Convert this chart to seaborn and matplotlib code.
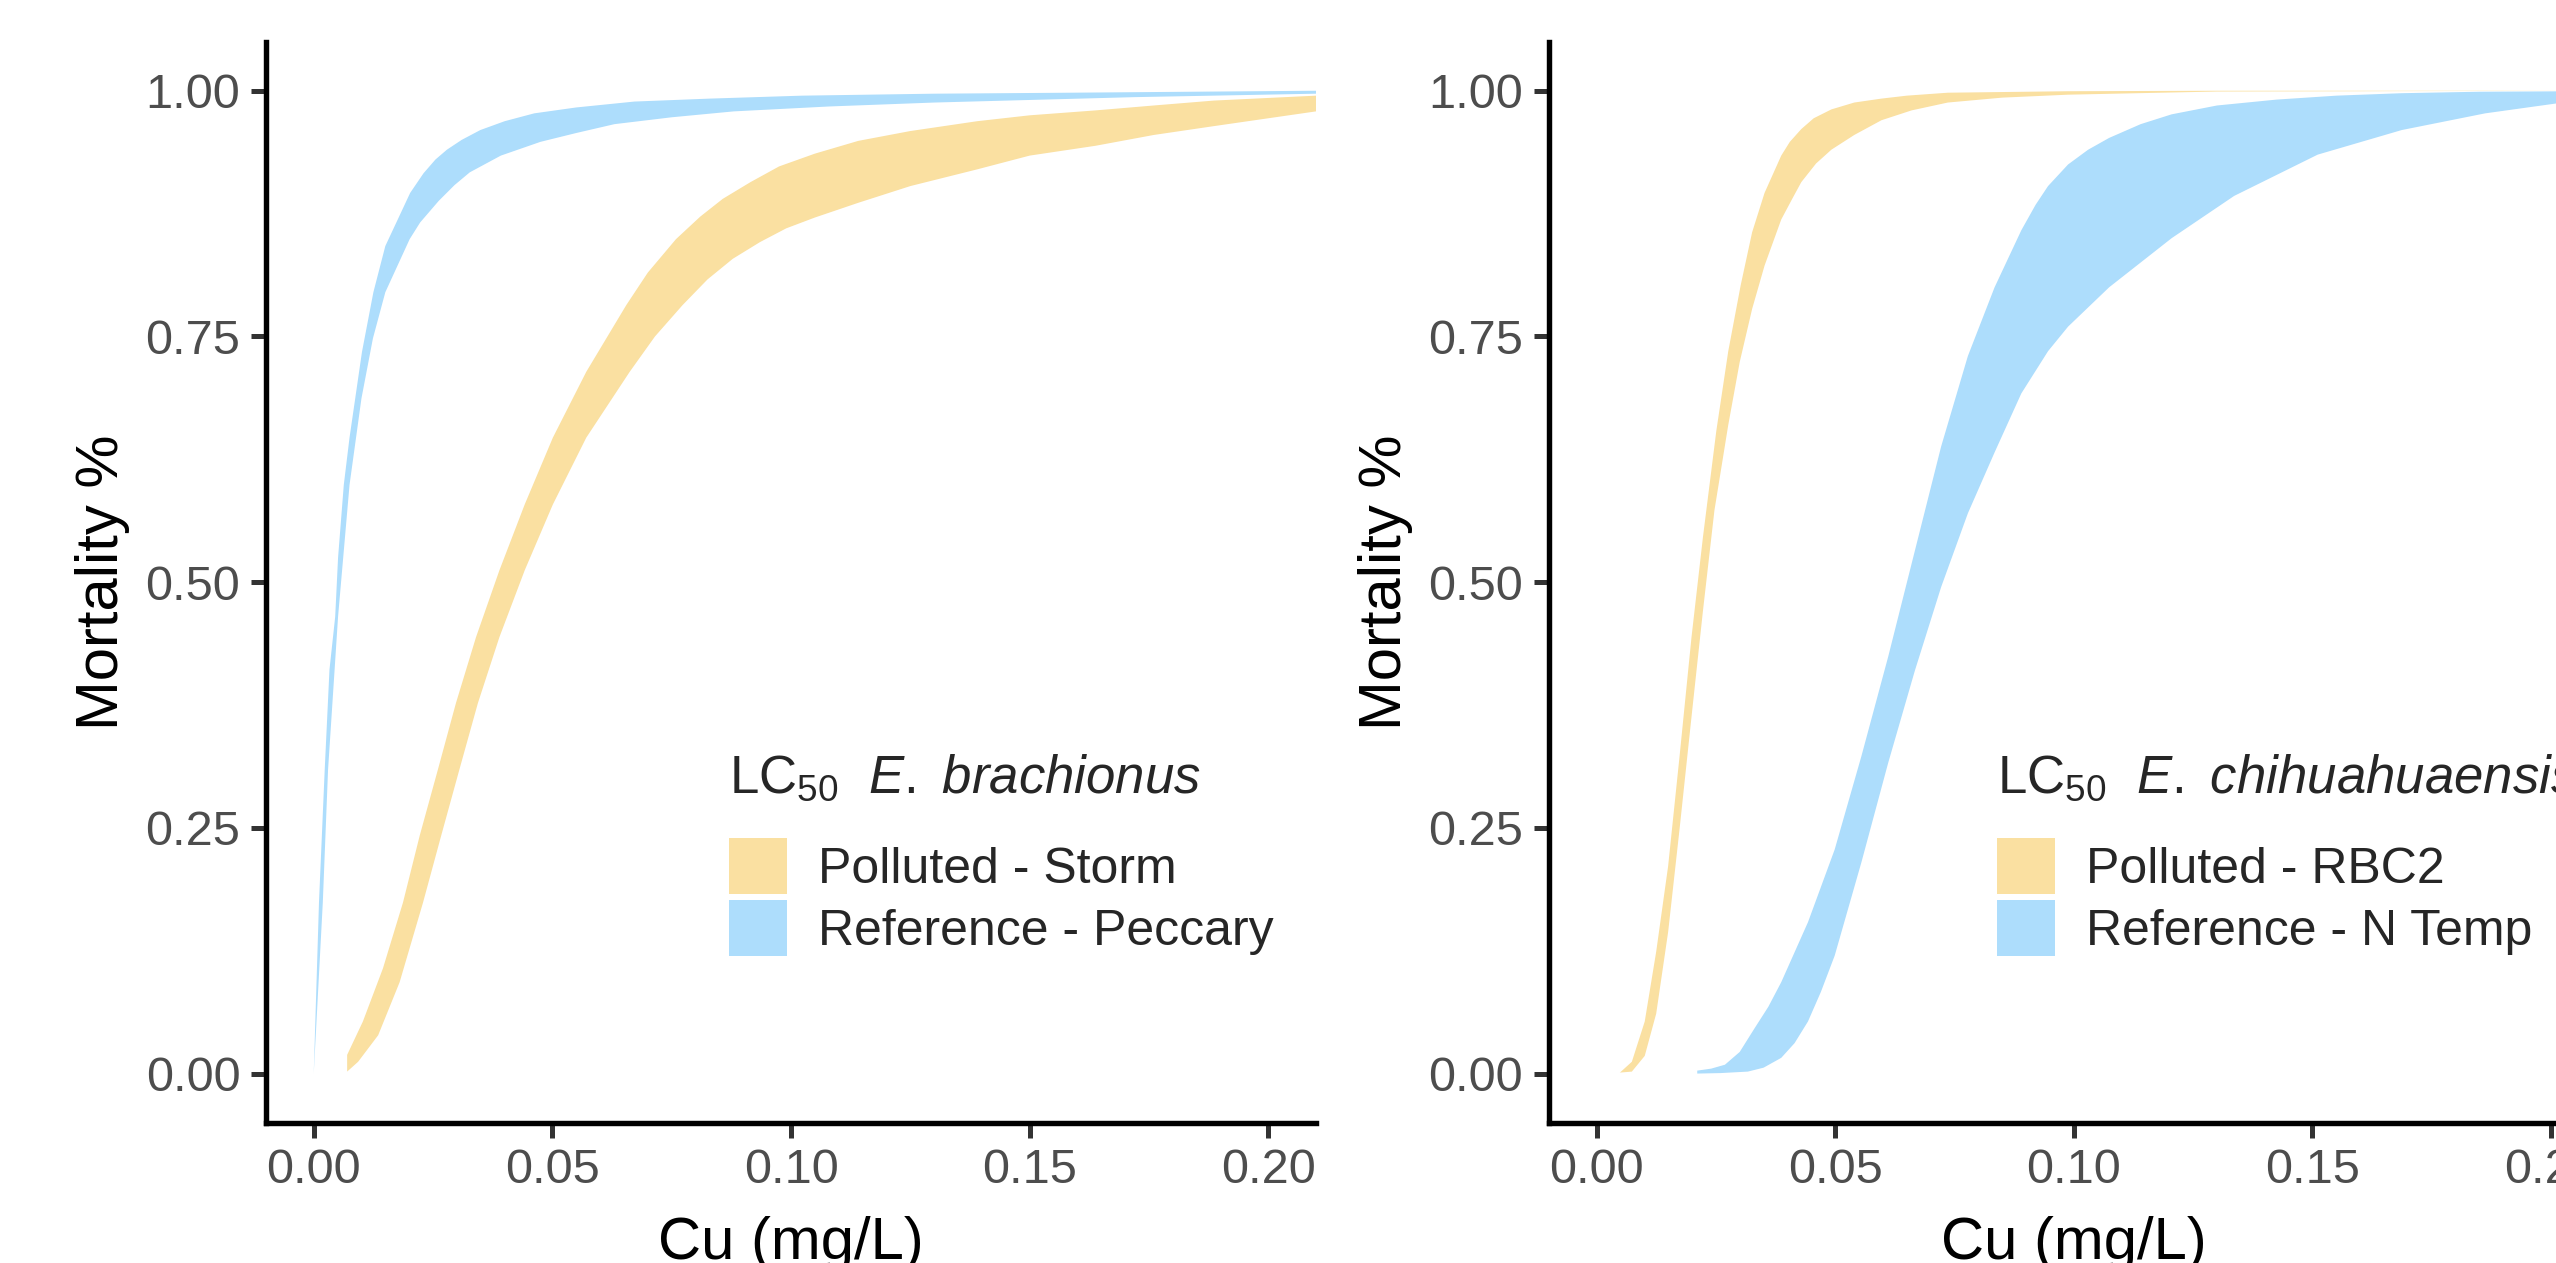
import numpy as np
import matplotlib
matplotlib.use("Agg")
import matplotlib.pyplot as plt
from matplotlib.patches import Patch
import seaborn as sns

# ribbon edges: Cu (mg/L) -> mortality fraction
# left panel, E. brachionus
storm_up_x = [0.0070, 0.0103, 0.0145, 0.0187, 0.0222, 0.0260, 0.0298, 0.0340, 0.0389, 0.0442, 0.0501,
              0.0571, 0.0655, 0.0700, 0.0759, 0.0810, 0.0857, 0.0915, 0.0975, 0.1050, 0.1141, 0.1250,
              0.1390, 0.1500, 0.1638, 0.1760, 0.1886, 0.2100]
storm_up_y = [0.019, 0.053, 0.107, 0.174, 0.242, 0.309, 0.377, 0.444, 0.512, 0.579, 0.647,
              0.714, 0.782, 0.815, 0.849, 0.872, 0.890, 0.907, 0.923, 0.936, 0.949, 0.959,
              0.969, 0.975, 0.980, 0.985, 0.990, 0.995]
storm_lo_x = [0.0070, 0.0093, 0.0135, 0.0180, 0.0229, 0.0267, 0.0305, 0.0344, 0.0389, 0.0442, 0.0501,
              0.0571, 0.0662, 0.0715, 0.0773, 0.0825, 0.0878, 0.0935, 0.0990, 0.1050, 0.1141, 0.1250,
              0.1390, 0.1500, 0.1638, 0.1760, 0.1886, 0.2100]
storm_lo_y = [0.002, 0.012, 0.039, 0.093, 0.174, 0.242, 0.309, 0.377, 0.444, 0.512, 0.579,
              0.647, 0.714, 0.750, 0.782, 0.808, 0.829, 0.846, 0.860, 0.871, 0.886, 0.903,
              0.920, 0.934, 0.944, 0.955, 0.964, 0.979]

peccary_up_x = [0.0, 0.0011, 0.0023, 0.0033, 0.0045, 0.0051, 0.0063, 0.0075, 0.0101, 0.0125, 0.0150,
                0.0177, 0.0202, 0.0230, 0.0255, 0.0279, 0.0310, 0.0349, 0.0400, 0.0462, 0.0550,
                0.0672, 0.0830, 0.1023, 0.1300, 0.1584, 0.2100]
peccary_up_y = [0.0, 0.174, 0.309, 0.411, 0.465, 0.525, 0.599, 0.647, 0.734, 0.795, 0.842,
                0.870, 0.896, 0.916, 0.930, 0.940, 0.950, 0.960, 0.969, 0.977, 0.983,
                0.989, 0.992, 0.995, 0.997, 0.998, 1.0]
peccary_lo_x = [0.0, 0.0019, 0.0030, 0.0051, 0.0075, 0.0100, 0.0124, 0.0150, 0.0201, 0.0223,
                0.0262, 0.0295, 0.0327, 0.0392, 0.0475, 0.0550, 0.0630, 0.0750, 0.0880, 0.1080,
                0.1300, 0.1720, 0.2100]
peccary_lo_y = [0.0, 0.174, 0.309, 0.465, 0.599, 0.687, 0.748, 0.795, 0.849, 0.866,
                0.888, 0.904, 0.917, 0.934, 0.948, 0.957, 0.966, 0.973, 0.979, 0.984,
                0.988, 0.9935, 0.997]

# right panel, E. chihuahuaensis
rbc2_up_x = [0.0049, 0.0074, 0.0101, 0.0125, 0.0150, 0.0174, 0.0199, 0.0223, 0.0251, 0.0276, 0.0302,
             0.0326, 0.0352, 0.0387, 0.0405, 0.0429, 0.0455, 0.0492, 0.0540, 0.0597, 0.0650,
             0.0736, 0.0988, 0.1300, 0.2100]
rbc2_up_y = [0.001, 0.012, 0.053, 0.124, 0.211, 0.323, 0.444, 0.546, 0.654, 0.735, 0.802,
             0.856, 0.896, 0.934, 0.948, 0.961, 0.972, 0.981, 0.988, 0.992, 0.995,
             0.998, 0.9995, 1.0, 1.0]
rbc2_lo_x = [0.0049, 0.0074, 0.0101, 0.0125, 0.0150, 0.0174, 0.0199, 0.0223, 0.0247, 0.0276, 0.0300,
             0.0326, 0.0352, 0.0387, 0.0410, 0.0429, 0.0460, 0.0492, 0.0540, 0.0597, 0.0660,
             0.0736, 0.0850, 0.0988, 0.1300, 0.2100]
rbc2_lo_y = [0.001, 0.002, 0.018, 0.061, 0.144, 0.249, 0.363, 0.471, 0.573, 0.660, 0.724,
             0.778, 0.822, 0.869, 0.890, 0.907, 0.926, 0.940, 0.955, 0.970, 0.980,
             0.988, 0.993, 0.996, 0.9992, 1.0]

ntemp_up_x = [0.0211, 0.0240, 0.0269, 0.0300, 0.0331, 0.0360, 0.0387, 0.0443, 0.0499, 0.0555, 0.0611,
              0.0667, 0.0722, 0.0778, 0.0834, 0.0890, 0.0920, 0.0946, 0.0988, 0.1030, 0.1074,
              0.1140, 0.1205, 0.1300, 0.1425, 0.1550, 0.1687, 0.1850, 0.2100]
ntemp_up_y = [0.003, 0.005, 0.009, 0.022, 0.046, 0.068, 0.093, 0.154, 0.228, 0.323, 0.424,
              0.532, 0.638, 0.730, 0.800, 0.858, 0.884, 0.903, 0.925, 0.940, 0.952,
              0.966, 0.976, 0.985, 0.991, 0.995, 0.9975, 0.999, 0.9996]
ntemp_lo_x = [0.0211, 0.0260, 0.0317, 0.0350, 0.0387, 0.0415, 0.0443, 0.0470, 0.0499, 0.0555, 0.0611,
              0.0667, 0.0722, 0.0778, 0.0834, 0.0890, 0.0946, 0.0988, 0.1074, 0.1205, 0.1336,
              0.1511, 0.1687, 0.1862, 0.2010, 0.2100]
ntemp_lo_y = [0.0, 0.0005, 0.002, 0.006, 0.016, 0.031, 0.053, 0.083, 0.120, 0.215, 0.316,
              0.410, 0.495, 0.570, 0.632, 0.692, 0.735, 0.760, 0.800, 0.850, 0.893,
              0.935, 0.960, 0.977, 0.987, 0.990]

x_ticks = [0.0, 0.05, 0.10, 0.15, 0.20]
y_ticks = [0.0, 0.25, 0.50, 0.75, 1.00]

POLLUTED = "#FAE0A1"
REFERENCE = "#ADDDFC"

sns.set_theme(style="ticks")
plt.rcParams["font.family"] = ["Liberation Sans", "DejaVu Sans"]
plt.rcParams.update({
    "mathtext.fontset": "custom",
    "mathtext.rm": "Liberation Sans",
    "mathtext.it": "Liberation Sans:italic",
    "mathtext.bf": "Liberation Sans:bold",
})


def ribbon(ax, up_x, up_y, lo_x, lo_y, color):
    xs = np.concatenate([up_x, lo_x[::-1]])
    ys = np.concatenate([up_y, lo_y[::-1]])
    ax.fill(xs, ys, color=color, linewidth=0)


def style_panel(ax):
    ax.set_xlim(-0.01, 0.21)
    ax.set_ylim(-0.05, 1.05)
    ax.set_xticks(x_ticks)
    ax.set_yticks(y_ticks)
    ax.set_xticklabels([f"{t:.2f}" for t in x_ticks])
    ax.set_yticklabels([f"{t:.2f}" for t in y_ticks])
    ax.set_xlabel("Cu (mg/L)", fontsize=43, color="black", labelpad=16)
    ax.set_ylabel("Mortality %", fontsize=43, color="black", labelpad=11)
    ax.tick_params(axis="both", labelsize=35, labelcolor="#4D4D4D", color="#333333",
                   length=10.5, width=3.6, pad=8)
    sns.despine(ax=ax)
    for side in ["left", "bottom"]:
        ax.spines[side].set_linewidth(3.9)
        ax.spines[side].set_color("black")
    ax.grid(False)
    ax.set_facecolor("white")


def add_legend(ax, species, labels, x_anchor):
    handles = [Patch(facecolor=POLLUTED, edgecolor="none"), Patch(facecolor=REFERENCE, edgecolor="none")]
    title = r"$\mathrm{LC}_{50}$  $\mathit{" + species.replace(" ", r"\ ") + "}$"
    leg = ax.legend(handles, labels, title=title, loc="upper left", bbox_to_anchor=(x_anchor, 0.342),
                    frameon=False, fontsize=36, title_fontsize=38, handlelength=1.15, handleheight=1.365,
                    labelspacing=0.108, handletextpad=0.62, borderpad=0, borderaxespad=0, alignment="left")
    leg._legend_box.sep = 24.5
    return leg


fig = plt.figure(figsize=(25.56, 12.63), dpi=100)
fig.patch.set_facecolor("white")
ax1 = fig.add_axes([0.10407, 0.11108, 0.41080, 0.85598])
ax2 = fig.add_axes([0.60595, 0.11108, 0.41080, 0.85598])

ribbon(ax1, storm_up_x, storm_up_y, storm_lo_x, storm_lo_y, POLLUTED)
ribbon(ax1, peccary_up_x, peccary_up_y, peccary_lo_x, peccary_lo_y, REFERENCE)
style_panel(ax1)
add_legend(ax1, "E. brachionus", ["Polluted - Storm", "Reference - Peccary"], 0.4414)

ribbon(ax2, rbc2_up_x, rbc2_up_y, rbc2_lo_x, rbc2_lo_y, POLLUTED)
ribbon(ax2, ntemp_up_x, ntemp_up_y, ntemp_lo_x, ntemp_lo_y, REFERENCE)
style_panel(ax2)
add_legend(ax2, "E. chihuahuaensis", ["Polluted - RBC2", "Reference - N Temp"], 0.4269)

fig.savefig("out.png", dpi=100, facecolor="white")
